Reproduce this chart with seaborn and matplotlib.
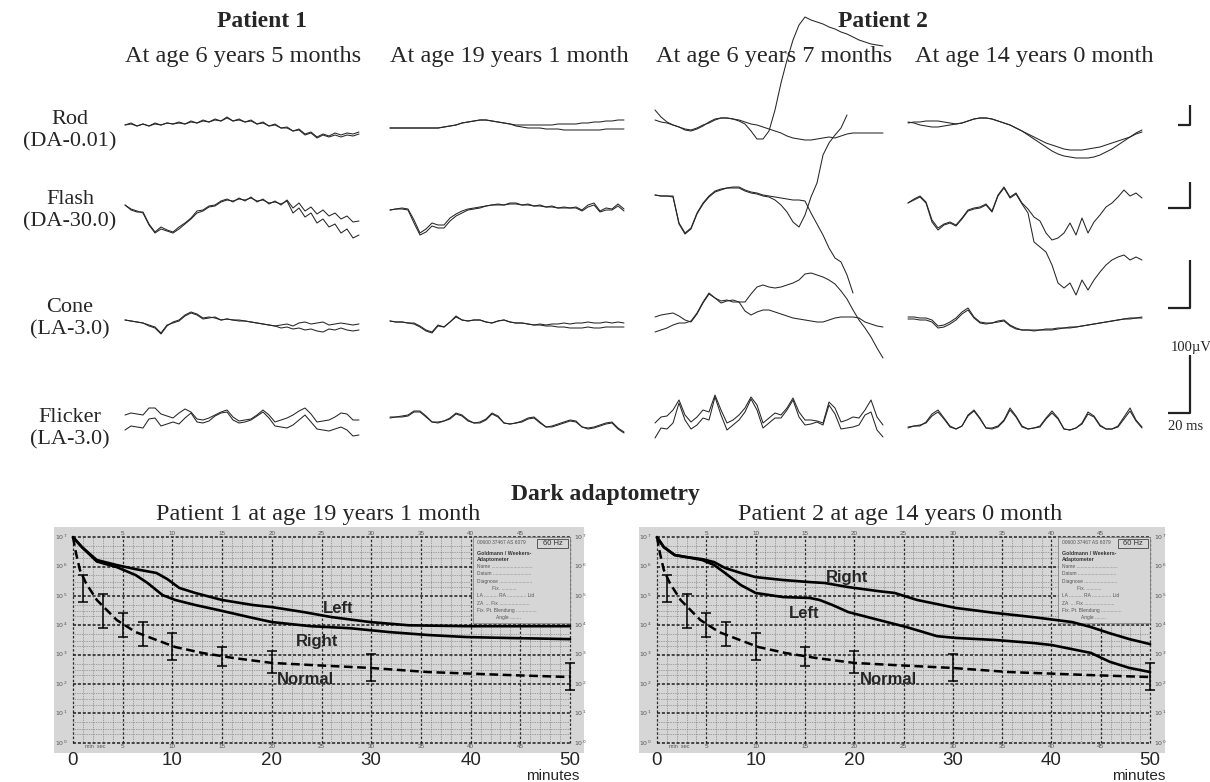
import numpy as np
import pandas as pd
import matplotlib
matplotlib.use("Agg")
import matplotlib.pyplot as plt
import seaborn as sns
from matplotlib.patches import Rectangle

# ---------------- ERG traces (two eyes per panel), one sample every 6 ms ----------------
SAMPLE_MS = 6

# Patient 1, age 6 y 5 m
rod_p1_6y_a = [0, 2, -1, 1, -1, 2, 0, 2, 1, 3, 1, 4, 2, 5, 3, 6, 4, 8, 4, 6,
               3, 5, 1, 3, -1, 1, -3, -2, -6, -4, -9, -7, -12, -9, -11, -8, -10, -8, -9, -7]
rod_p1_6y_b = [0, 1, -1, 1, -1, 1, 0, 2, 1, 2, 1, 3, 2, 4, 3, 5, 4, 7, 4, 5,
               3, 4, 1, 2, -1, 0, -3, -3, -6, -5, -10, -8, -13, -10, -12, -10, -12, -10, -11, -9]
flash_p1_6y_a = [0, -5, -7, -7, -19, -27, -22, -25, -27, -22, -18, -13, -6, -5, -1, 0, 4, 6, 3, 7,
                 4, 8, 3, 6, 1, 4, 0, 5, -3, 2, -6, -2, -9, -5, -11, -8, -14, -11, -17, -16]
flash_p1_6y_b = [0, -4, -6, -8, -20, -28, -24, -26, -28, -24, -19, -14, -8, -6, -2, -1, 3, 5, 4, 6,
                 5, 7, 4, 5, 2, 3, 1, 4, -8, -3, -12, -8, -18, -14, -22, -19, -28, -24, -33, -30]
cone_p1_6y_a = [0, -1, -2, -3, -5, -7, -13, -5, -3, -1, 4, 7, 5, 1, 2, 3, 0, 1, 0, 0,
                -1, -2, -3, -4, -5, -6, -5, -4, -6, -3, -2, -4, -3, -2, -5, -4, -3, -4, -5, -4]
cone_p1_6y_b = [0, -1, -2, -3, -6, -8, -14, -6, -2, 0, 5, 8, 6, 2, 3, 2, 0, 1, 0, -1,
                -1, -2, -3, -4, -5, -6, -8, -7, -9, -8, -10, -9, -11, -12, -9, -10, -8, -10, -11, -10]
flicker_p1_6y_a = [5, 7, 6, 5, 12, 12, 6, 4, 2, 7, 11, 8, 1, 0, 2, 5, 8, 10, 3, -1,
                   0, 1, 5, 10, 5, -2, 0, 2, 5, 9, 12, 6, -2, -1, 0, 3, 7, 6, 0, 0]
flicker_p1_6y_b = [-10, -6, -7, -8, 1, 2, -6, -4, -2, -4, 2, 7, -2, -3, -1, 4, 7, 8, 0, -3,
                   -2, 0, 4, 8, 2, -6, -7, -8, -5, 0, 5, -2, -9, -10, -11, -9, -7, -10, -16, -15]

# Patient 1, age 19 y 1 m
rod_p1_19y_a = [-3, -3, -3, -3, -3, -3, -3, -3, -3, -2, -1, 0, 2, 3, 4, 5, 5, 4, 3, 2,
                1, 0, 0, 0, 0, 0, 0, 0, 1, 1, 1, 1, 2, 2, 3, 3, 4, 4, 5, 5]
rod_p1_19y_b = [-3, -3, -3, -3, -3, -3, -3, -3, -3, -2, -1, 0, 2, 3, 4, 5, 5, 4, 3, 2,
                1, -1, -2, -3, -3, -3, -4, -4, -4, -5, -5, -5, -5, -5, -5, -5, -4, -4, -4, -4]
flash_p1_19y_a = [-5, -4, -3, -4, -15, -28, -24, -18, -20, -20, -13, -9, -6, -4, -3, -2, -1, 0, 1, 0,
                  2, 2, 0, 1, -1, 0, -2, -1, -3, -2, -3, -2, -5, 0, 2, -6, -3, -4, 1, -4]
flash_p1_19y_b = [-5, -4, -4, -5, -18, -30, -27, -21, -23, -23, -16, -11, -8, -5, -4, -3, -1, 0, 0, 0,
                  1, 1, 0, 0, -1, -1, -2, -2, -3, -3, -3, -3, -6, -2, 0, -7, -5, -5, -1, -6]
cone_p1_19y_a = [-1, -2, -2, -3, -3, -6, -10, -12, -5, -7, -2, 4, 0, -1, 0, 0, -2, -3, -1, 0,
                 -2, -3, -3, -4, -5, -4, -5, -4, -4, -3, -4, -3, -3, -2, -3, -3, -2, -3, -2, -3]
cone_p1_19y_b = [-1, -2, -2, -3, -4, -7, -11, -13, -6, -7, -2, 3, 0, -1, 0, 0, -2, -3, -1, 0,
                 -2, -3, -3, -4, -5, -5, -6, -6, -7, -7, -8, -8, -8, -7, -8, -8, -7, -7, -7, -7]
flicker_p1_19y_a = [3, 3, 4, 5, 9, 9, 4, -2, -2, -1, 2, 7, 5, 0, -3, -2, 1, 7, 4, -3,
                    -4, -3, -1, 2, 3, -2, -7, -6, -4, -2, 0, -1, -7, -8, -7, -5, -3, -2, -8, -12]
flicker_p1_19y_b = [2, 3, 3, 4, 8, 8, 3, -2, -3, -1, 1, 6, 4, -1, -3, -3, 0, 6, 3, -3,
                    -4, -3, -2, 1, 2, -3, -7, -7, -5, -3, -1, -2, -7, -9, -8, -6, -4, -3, -9, -13]

# Patient 2, age 6 y 7 m
rod_p2_6y_a = [5, 3, 2, 0, -2, -4, -5, -3, 0, 2, 5, 7, 7, 6, 5, 3, 1, 0, -2, -4,
               -6, -8, -11, -13, -14, -15, -15, -14, -13, -12, -13, -11, -9, -8, -8, -8, -8, -8, -8]
rod_p2_6y_b = [15, 8, 3, 0, -2, -5, -6, -4, -1, 3, 6, 7, 7, 6, 4, 1, -6, -14, -14, -6,
               15, 42, 65, 85, 100, 108, 105, 103, 101, 98, 96, 93, 91, 88, 85, 83, 81, 80, 79]
flash_p2_6y_a = [10, 9, 9, 9, -18, -28, -23, -8, 2, 9, 14, 16, 17, 18, 18, 15, 13, 12, 10, 9,
                 8, 7, 6, 5, 5, 4, -8, -19, -30, -43, -53, -57, -70, -88]
flash_p2_6y_b = [10, 9, 9, 8, -19, -29, -24, -9, 1, 8, 13, 15, 17, 17, 17, 14, 12, 11, 9, 8,
                 5, 0, -7, -17, -22, -10, 8, 22, 50, 62, 70, 77, 90]
cone_p2_6y_a = [3, 5, 6, 7, 4, 0, -2, 6, 17, 26, 22, 17, 19, 20, 18, 9, 5, 8, 10, 10,
                8, 6, 4, 2, 1, 0, -1, -2, -2, 0, 2, 3, 3, 3, 2, -2, -4, -6, -7]
cone_p2_6y_b = [-12, -10, -8, -5, -3, -3, -1, 7, 18, 27, 22, 19, 20, 18, 18, 18, 26, 33, 35, 33,
                32, 33, 35, 37, 40, 46, 47, 45, 43, 40, 36, 29, 21, 10, 0, -8, -17, -28, -38]
flicker_p2_6y_a = [-3, 3, 4, 10, 20, 5, -2, 3, 10, 8, 25, 10, -3, 0, 5, 12, 23, 15, -3, 2,
                   7, 5, 12, 22, 8, 0, 0, -1, -3, 18, 12, -2, 0, 3, 2, 10, 20, 3, -5]
flicker_p2_6y_b = [-18, -8, -9, -3, 17, 0, -9, -5, 2, 0, 23, 5, -10, -5, 0, 8, 21, 10, -8, -3,
                   2, 2, 10, 20, 3, -5, -4, -2, -5, 15, 6, -9, -8, -7, -5, 5, 8, -10, -17]

# Patient 2, age 14 y 0 m
rod_p2_14y_a = [2, 3, 3, 4, 4, 4, 3, 2, 1, 2, 4, 6, 7, 7, 6, 4, 2, 0, -3, -6,
                -9, -12, -15, -18, -20, -22, -24, -25, -25, -25, -24, -23, -22, -20, -18, -16, -14, -12, -9, -7]
rod_p2_14y_b = [3, 2, 0, -1, -2, -2, -1, 0, 1, 2, 4, 6, 7, 7, 6, 4, 2, 0, -3, -6,
                -10, -14, -18, -22, -26, -29, -31, -32, -33, -33, -33, -32, -30, -27, -24, -20, -16, -12, -8, -5]
flash_p2_14y_a = [2, 6, 9, 3, -15, -23, -19, -17, -20, -13, -5, -3, -2, 1, -6, 10, 18, 8, 12, 2,
                  -4, -12, -16, -28, -35, -33, -28, -18, -30, -13, -28, -17, -10, -2, 2, 8, 15, 9, 12, 7]
flash_p2_14y_b = [2, 5, 8, 2, -17, -25, -20, -18, -21, -14, -6, -4, -3, 0, -7, 9, 17, 7, 11, 1,
                  -8, -37, -42, -47, -60, -78, -83, -78, -90, -75, -85, -75, -67, -60, -55, -52, -50, -55, -52, -55]
cone_p2_14y_a = [3, 3, 2, 2, 0, -6, -5, -2, 2, 8, 12, 3, -2, -3, -3, -1, 0, -5, -8, -10,
                 -10, -10, -10, -9, -9, -8, -8, -7, -7, -6, -5, -4, -3, -2, -1, 0, 1, 2, 2, 3]
cone_p2_14y_b = [1, 1, 0, 0, -2, -8, -7, -4, 0, 6, 10, 2, -3, -4, -3, -2, -1, -6, -9, -10,
                 -10, -11, -10, -10, -10, -9, -8, -8, -7, -6, -5, -4, -3, -2, -1, 0, 1, 1, 2, 2]
flicker_p2_14y_a = [-8, -6, -6, -2, 6, 10, 2, -6, -9, -6, 5, 10, 2, -8, -8, -6, 0, 12, 4, -6,
                    -9, -8, -6, 2, 9, 2, -9, -10, -8, -3, 8, 4, -5, -9, -9, -6, 3, 12, 0, -7]
flicker_p2_14y_b = [-7, -6, -5, -3, 4, 8, 1, -7, -9, -6, 4, 9, 1, -8, -9, -7, -1, 10, 3, -7,
                    -9, -8, -7, 1, 7, 1, -9, -10, -8, -4, 6, 3, -6, -9, -9, -7, 1, 9, -1, -8]

row_names = ["Rod", "Flash", "Cone", "Flicker"]
row_protocols = ["(DA-0.01)", "(DA-30.0)", "(LA-3.0)", "(LA-3.0)"]
patient_names = ["Patient 1", "Patient 2"]
visit_labels = ["At age 6 years 5 months", "At age 19 years 1 month",
                "At age 6 years 7 months", "At age 14 years 0 month"]

# ---------------- dark adaptometry (log10 threshold vs minutes) ----------------
da_p1_left_min = [0, 0.9, 2.4, 4.4, 6.3, 8.4, 9.5, 10.7, 12.3, 15, 18.1, 20, 23.2, 26, 29.9, 33.8, 39.6, 50]
da_p1_left_log = [7.0, 6.66, 6.22, 6.05, 5.91, 5.78, 5.57, 5.27, 5.10, 4.86, 4.69, 4.62, 4.45, 4.28, 4.11, 4.0, 3.97, 3.97]
da_p1_right_min = [0, 0.9, 2.4, 4.4, 6.3, 7.5, 9.0, 10.3, 12.3, 14.6, 18.1, 20, 23.9, 27.9, 31.8, 35.7, 39.6, 43.6, 50]
da_p1_right_log = [7.0, 6.66, 6.17, 5.98, 5.71, 5.44, 5.03, 4.86, 4.69, 4.52, 4.25, 4.11, 3.97, 3.9, 3.77, 3.67, 3.6, 3.57, 3.53]

da_p2_right_min = [0, 0.7, 1.8, 3.0, 4.6, 5.8, 6.9, 8.5, 10.0, 12.8, 15.5, 17.0, 19.4, 22.5, 24.1, 26.4,
                   30.3, 34.3, 38.1, 42.1, 44.0, 45.9, 47.9, 50]
da_p2_right_log = [7.0, 6.66, 6.39, 6.32, 6.25, 6.15, 5.95, 5.78, 5.64, 5.54, 5.47, 5.44, 5.30, 5.16, 5.10, 4.86,
                   4.59, 4.42, 4.28, 4.11, 3.94, 3.73, 3.53, 3.36]
da_p2_left_min = [0, 0.7, 1.8, 3.0, 4.6, 5.8, 6.9, 8.5, 10.0, 12.8, 15.5, 16.5, 17.8, 19.4, 22.5, 25.3,
                  28.4, 30.3, 34.3, 38.1, 40.0, 44.0, 45.9, 47.9, 50]
da_p2_left_log = [7.0, 6.66, 6.39, 6.32, 6.22, 6.05, 5.78, 5.37, 5.10, 4.96, 4.93, 4.86, 4.69, 4.45, 4.18, 3.94,
                  3.63, 3.57, 3.50, 3.40, 3.33, 3.06, 2.76, 2.55, 2.41]

da_normal_min = [0, 0.3, 0.7, 1.3, 2.4, 4.4, 6.3, 8.4, 10.3, 13, 16.1, 20, 23.9, 29.9, 35.7, 43.6, 50]
da_normal_log = [7.0, 6.46, 5.88, 5.44, 4.86, 4.18, 3.77, 3.5, 3.26, 3.06, 2.89, 2.72, 2.65, 2.55, 2.41, 2.31, 2.24]
da_range_min = [1, 3, 5, 7, 10, 15, 20, 30, 50]
da_range_hi = [5.71, 5.06, 4.42, 4.11, 3.73, 3.26, 3.12, 3.02, 2.72]
da_range_lo = [4.79, 3.90, 3.60, 3.30, 2.82, 2.62, 2.37, 2.10, 1.80]

da_titles = ["Patient 1 at age 19 years 1 month", "Patient 2 at age 14 years 0 month"]

# ---------------- figure ----------------
W, H = 1210, 782


def rect(x0, y0, x1, y1):
    return [x0 / W, 1 - y1 / H, (x1 - x0) / W, (y1 - y0) / H]


def ftext(x, y, s, **kw):
    fig.text(x / W, 1 - y / H, s, **kw)


sns.set_theme(style="white")
plt.rcParams["font.family"] = ["Liberation Serif", "DejaVu Serif"]
SANS = ["Liberation Sans", "DejaVu Sans"]

fig = plt.figure(figsize=(W / 100, H / 100), dpi=100)

# --- ERG block ---
TOP = 470
row_base = [125, 205, 320, 420]
columns = [
    (125, [(rod_p1_6y_a, rod_p1_6y_b), (flash_p1_6y_a, flash_p1_6y_b),
           (cone_p1_6y_a, cone_p1_6y_b), (flicker_p1_6y_a, flicker_p1_6y_b)]),
    (390, [(rod_p1_19y_a, rod_p1_19y_b), (flash_p1_19y_a, flash_p1_19y_b),
           (cone_p1_19y_a, cone_p1_19y_b), (flicker_p1_19y_a, flicker_p1_19y_b)]),
    (655, [(rod_p2_6y_a, rod_p2_6y_b), (flash_p2_6y_a, flash_p2_6y_b),
           (cone_p2_6y_a, cone_p2_6y_b), (flicker_p2_6y_a, flicker_p2_6y_b)]),
    (908, [(rod_p2_14y_a, rod_p2_14y_b), (flash_p2_14y_a, flash_p2_14y_b),
           (cone_p2_14y_a, cone_p2_14y_b), (flicker_p2_14y_a, flicker_p2_14y_b)]),
]

erg_axes = []
for left, rows in columns:
    ax = fig.add_axes(rect(left, 0, left + 235, TOP))
    for base, traces in zip(row_base, rows):
        for vals in traces:
            df = pd.DataFrame({"ms": np.arange(len(vals)) * SAMPLE_MS,
                               "uv": np.asarray(vals, dtype=float) + (TOP - base)})
            sns.lineplot(data=df, x="ms", y="uv", ax=ax, color="#262626", linewidth=0.75)
    for ln in ax.lines:
        ln.set_clip_on(False)
    ax.set_xlim(0, 235)
    ax.set_ylim(0, TOP)
    ax.axis("off")
    ax.patch.set_visible(False)
    erg_axes.append(ax)

# scale bars (drawn next to the last column)
ax4 = erg_axes[-1]
for bottom, height, width in [(345, 20, 12), (262, 26, 22), (162, 48, 22), (57, 58, 22)]:
    ax4.plot([282 - width, 282, 282], [bottom, bottom, bottom + height],
             color="#222222", lw=1.6, clip_on=False, solid_capstyle="butt")
ax4.text(283, 123, "100µV", ha="center", va="center", fontsize=10.5, clip_on=False)
ax4.text(278, 43, "20 ms", ha="center", va="center", fontsize=10.5, clip_on=False)

# row labels
for name, proto, base_y in zip(row_names, row_protocols, [124, 204, 312, 422]):
    ftext(70, base_y, name, ha="center", va="baseline", fontsize=16)
    ftext(70, base_y + 22, proto, ha="center", va="baseline", fontsize=16)

ftext(262, 27, patient_names[0], ha="center", va="baseline", fontsize=17, fontweight="bold")
ftext(883, 27, patient_names[1], ha="center", va="baseline", fontsize=17, fontweight="bold")
for cx, s in zip([243, 509, 774, 1034], visit_labels):
    ftext(cx, 62, s, ha="center", va="baseline", fontsize=17.5)

# --- dark adaptometry ---
ftext(605, 500, "Dark adaptometry", ha="center", va="baseline", fontsize=17, fontweight="bold")

GRAY = "#d6d6d6"
panels = [
    dict(box=(69, 533, 575, 747), xlim=(-0.4, 50.5), back=(54, 527, 584, 753), title_x=318,
         minutes_x=553, form_x=40.2,
         curves=[(da_p1_left_min, da_p1_left_log), (da_p1_right_min, da_p1_right_log)],
         labels=[("Left", 26.7, 4.57), ("Right", 24.6, 3.45), ("Normal", 23.4, 2.15)]),
    dict(box=(652, 533, 1158, 747), xlim=(-0.5, 50.8), back=(639, 527, 1165, 753), title_x=900,
         minutes_x=1139, form_x=40.7,
         curves=[(da_p2_right_min, da_p2_right_log), (da_p2_left_min, da_p2_left_log)],
         labels=[("Right", 19.3, 5.62), ("Left", 14.9, 4.40), ("Normal", 23.5, 2.15)]),
]

form_lines = ["Name ..............................", "Datum ............................",
              "Diagnose ........................", "           Fix. ...........",
              "LA .......... RA .............. Lid", "ZA  ... Fix ......................",
              "Fix. Pt. Blendung ...............", "              Angle ........"]

for p, title in zip(panels, da_titles):
    bx0, by0, bx1, by1 = p["back"]
    fig.add_artist(Rectangle((bx0 / W, 1 - by1 / H), (bx1 - bx0) / W, (by1 - by0) / H,
                             transform=fig.transFigure, facecolor=GRAY, edgecolor="none", zorder=-1))
    ax = fig.add_axes(rect(*p["box"]))
    ax.set_facecolor(GRAY)
    ax.set_xlim(*p["xlim"])
    ax.set_ylim(-0.14, 7.14)

    # chart-paper grid
    for m in range(0, 51):
        if m % 5 == 0:
            ax.vlines(m, 0, 7, color="#2b2b2b", lw=0.9, linestyles=(0, (2, 1.5)), zorder=1)
        else:
            ax.vlines(m, 0, 7, color="#6a6a6a", lw=0.5, linestyles=(0, (1, 1.5)), zorder=1)
    for d in range(0, 8):
        ax.hlines(d, 0, 50, color="#1e1e1e", lw=1.1, linestyles=(0, (2, 1.2)), zorder=1)
        if d < 7:
            for f in (2, 3, 5):
                ax.hlines(d + np.log10(f), 0, 50, color="#6a6a6a", lw=0.5,
                          linestyles=(0, (1, 1.5)), zorder=1)

    # tiny printed scale of the chart paper
    for m in range(5, 50, 5):
        ax.text(m, 7.05, str(m), fontsize=4.5, color="#555555", ha="center", va="bottom",
                family=SANS, clip_on=False)
        ax.text(m, -0.05, str(m), fontsize=4.5, color="#555555", ha="center", va="top",
                family=SANS, clip_on=False)
    ax.text(1.2, -0.05, "min  sec", fontsize=4, color="#555555", ha="left", va="top",
            family=SANS, clip_on=False)
    for d in range(0, 8):
        ax.text(50.4, d, f"$10^{d}$", fontsize=4.5, color="#555555", ha="left", va="center",
                clip_on=False)
        ax.text(-0.6, d, f"$10^{d}$", fontsize=4.5, color="#555555", ha="right", va="center",
                clip_on=False)

    # form box in the upper right of the chart
    fx = p["form_x"]
    ax.add_patch(Rectangle((fx, 4.07), 50 - fx, 2.93, facecolor=GRAY, edgecolor="#777777",
                           lw=0.5, zorder=2))
    ax.add_patch(Rectangle((46.7, 6.63), 3.1, 0.3, facecolor=GRAY, edgecolor="#444444",
                           lw=0.6, zorder=2))
    ax.text(48.25, 6.78, "60 Hz", fontsize=5.5, ha="center", va="center", family=SANS,
            color="#333333", zorder=3)
    ax.text(fx + 0.4, 6.8, "00600 37467 AS 6079", fontsize=3.5, color="#555555", va="center",
            family=SANS, zorder=3)
    ax.text(fx + 0.4, 6.45, "Goldmann / Weekers-", fontsize=3.8, color="#333333",
            fontweight="bold", va="center", family=SANS, zorder=3)
    ax.text(fx + 0.4, 6.25, "Adaptometer", fontsize=3.8, color="#333333", fontweight="bold",
            va="center", family=SANS, zorder=3)
    for i, s in enumerate(form_lines):
        ax.text(fx + 0.4, 6.0 - i * 0.25, s, fontsize=3.5, color="#555555", va="center",
                family=SANS, zorder=3)

    # threshold curves
    for mins, logs in p["curves"]:
        df = pd.DataFrame({"minutes": mins, "log_threshold": logs})
        sns.lineplot(data=df, x="minutes", y="log_threshold", ax=ax, color="black",
                     linewidth=1.9, zorder=4)
    df = pd.DataFrame({"minutes": da_normal_min, "log_threshold": da_normal_log})
    sns.lineplot(data=df, x="minutes", y="log_threshold", ax=ax, color="black",
                 linewidth=1.8, zorder=4)
    ax.lines[-1].set_dashes([3.5, 1.8])
    lo = np.array(da_range_lo)
    hi = np.array(da_range_hi)
    mid = (lo + hi) / 2
    ax.errorbar(da_range_min, mid, yerr=[mid - lo, hi - mid], fmt="none", ecolor="black",
                elinewidth=1.1, capsize=3.5, capthick=1.1, zorder=4)
    for lab, lx, ly in p["labels"]:
        ax.text(lx, ly, lab, fontsize=12, fontweight="bold", family=SANS, ha="center",
                va="center", zorder=5)

    for ln in ax.lines:
        ln.set_clip_on(False)
    ax.set_xticks(range(0, 51, 10))
    ax.set_xticklabels([str(v) for v in range(0, 51, 10)], family=SANS)
    ax.tick_params(axis="x", length=0, pad=3.5, labelsize=13.5)
    ax.set_yticks([])
    ax.set_xlabel("")
    ax.set_ylabel("")
    for sp in ax.spines.values():
        sp.set_visible(False)

    ftext(p["title_x"], 520, title, ha="center", va="baseline", fontsize=17.5)
    ftext(p["minutes_x"], 776, "minutes", ha="center", va="center", fontsize=11, family=SANS)

fig.savefig("out.png", dpi=100, facecolor="white")
